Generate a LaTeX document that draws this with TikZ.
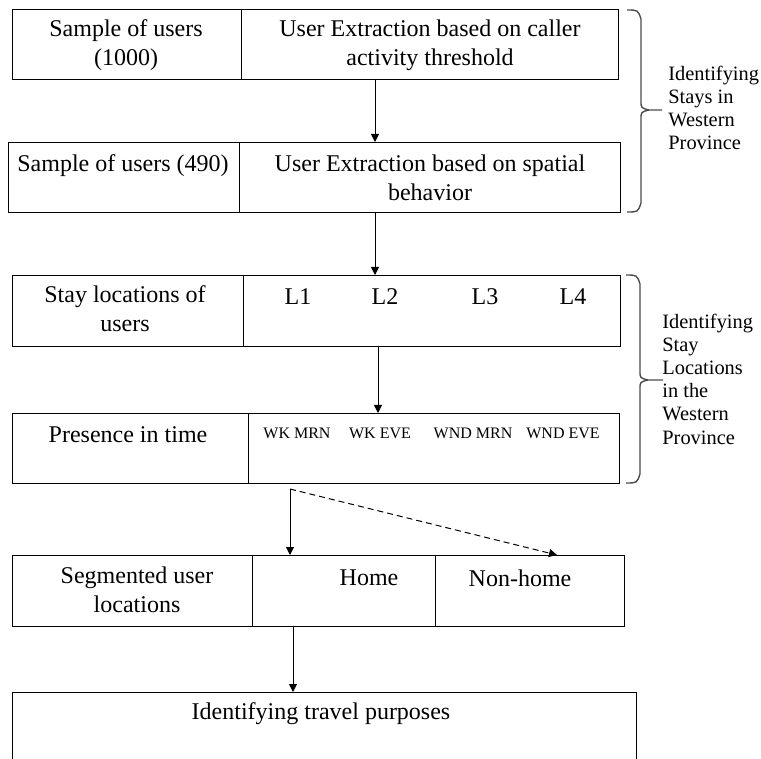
\documentclass[tikz,border=0pt]{standalone}
\usepackage{fontspec}
\setmainfont{Liberation Serif}
\usetikzlibrary{arrows.meta, positioning}

\begin{document}
\begin{tikzpicture}[
    x=0.5pt, y=-0.5pt,
    cell/.style={draw, rectangle, line width=0.6pt, inner sep=0pt, anchor=north west},
    txt/.style={align=center, inner sep=0pt, font=\fontsize{12}{14.5}\selectfont},
    slot/.style={inner sep=0pt, font=\fontsize{8}{9}\selectfont},
    side/.style={align=left, anchor=west, inner sep=0pt, font=\fontsize{10.2}{11.6}\selectfont},
    arrow/.style={-{Triangle[length=4pt, width=4pt]}, line width=0.5pt},
    brc/.style={line width=0.7pt, black!70}
]
\useasboundingbox (0,0) rectangle (761,759);
\clip (0,0) rectangle (761,759);

% Boxes
\node (c1l) [cell, minimum width=114.5pt, minimum height=35pt] at (12,9) {};
\node (c1r) [cell, minimum width=188.5pt, minimum height=35pt] at (241,9) {};
\node (c2l) [cell, minimum width=115.5pt, minimum height=35pt] at (8,142) {};
\node (c2r) [cell, minimum width=190.5pt, minimum height=35pt] at (239,142) {};
\node (c3l) [cell, minimum width=115.5pt, minimum height=35.5pt] at (12,275) {};
\node (c3r) [cell, minimum width=188.5pt, minimum height=35.5pt] at (243,275) {};
\node (c4l) [cell, minimum width=118pt, minimum height=35pt] at (12,413) {};
\node (c4r) [cell, minimum width=185.5pt, minimum height=35pt] at (248,413) {};
\node (c5l) [cell, minimum width=120pt, minimum height=35.5pt] at (12,555) {};
\node (c5m) [cell, minimum width=91.5pt, minimum height=35.5pt] at (252,555) {};
\node (c5r) [cell, minimum width=94.5pt, minimum height=35.5pt] at (435,555) {};
\node (c6) [cell, minimum width=312pt, minimum height=60pt] at (12,692) {};

% Texts
\node (t1) [txt] at (126,45) {Sample of users\\(1000)};
\node (t2) [txt] at (430,45) {User Extraction based on caller\\activity threshold};
\node (t3) [txt] at (123,166) {Sample of users (490)};
\node (t4) [txt] at (430,178) {User Extraction based on spatial\\behavior};
\node (t5) [txt] at (125,309) {Stay locations of\\users};
\node (l1) [txt] at (298,297) {L1};
\node (l2) [txt] at (385,297) {L2};
\node (l3) [txt] at (485,297) {L3};
\node (l4) [txt] at (573,297) {L4};
\node (t6) [txt] at (128,435) {Presence in time};
\node (p1) [slot] at (297,433) {WK MRN};
\node (p2) [slot] at (380,433) {WK EVE};
\node (p3) [slot] at (473,433) {WND MRN};
\node (p4) [slot] at (563,433) {WND EVE};
\node (t7) [txt] at (137,590) {Segmented user\\locations};
\node (home) [txt] at (369,578) {Home};
\node (nonhome) [txt] at (520,578) {Non-home};
\node (t8) [txt] at (321,714) {Identifying travel purposes};

% Braces
\draw [brc] (627,10) .. controls (638,10) .. (641,19) -- (641,101) .. controls (641,108) .. (649,110) -- (662,110);
\draw [brc] (627,212) .. controls (638,212) .. (641,203) -- (641,119) .. controls (641,112) .. (649,110);
\draw [brc] (626,275) .. controls (637,275) .. (640,284) -- (640,371) .. controls (640,378) .. (648,380) -- (663,380);
\draw [brc] (626,483) .. controls (637,483) .. (640,474) -- (640,389) .. controls (640,382) .. (648,380);
\node (lab1) [side] at (668,108) {Identifying\\Stays in\\Western\\Province};
\node (lab2) [side] at (662,379) {Identifying\\Stay\\Locations\\in the\\Western\\Province};

% Arrows
\coordinate (ax1) at (375,0);
\coordinate (ax3) at (378,0);
\coordinate (fork) at (290,489);
\coordinate (nh) at (557,0);
\coordinate (ax4) at (293,0);
\draw [arrow] (c1r.south -| ax1) -- (c2r.north -| ax1);
\draw [arrow] (c2r.south -| ax1) -- (c3r.north -| ax1);
\draw [arrow] (c3r.south -| ax3) -- (c4r.north -| ax3);
\draw [arrow] (fork) -- (c5m.north -| fork);
\draw [arrow, dash pattern=on 3pt off 2pt] (fork) -- (c5r.north -| nh);
\draw [arrow] (c5m.south -| ax4) -- (c6.north -| ax4);

\end{tikzpicture}
\end{document}
